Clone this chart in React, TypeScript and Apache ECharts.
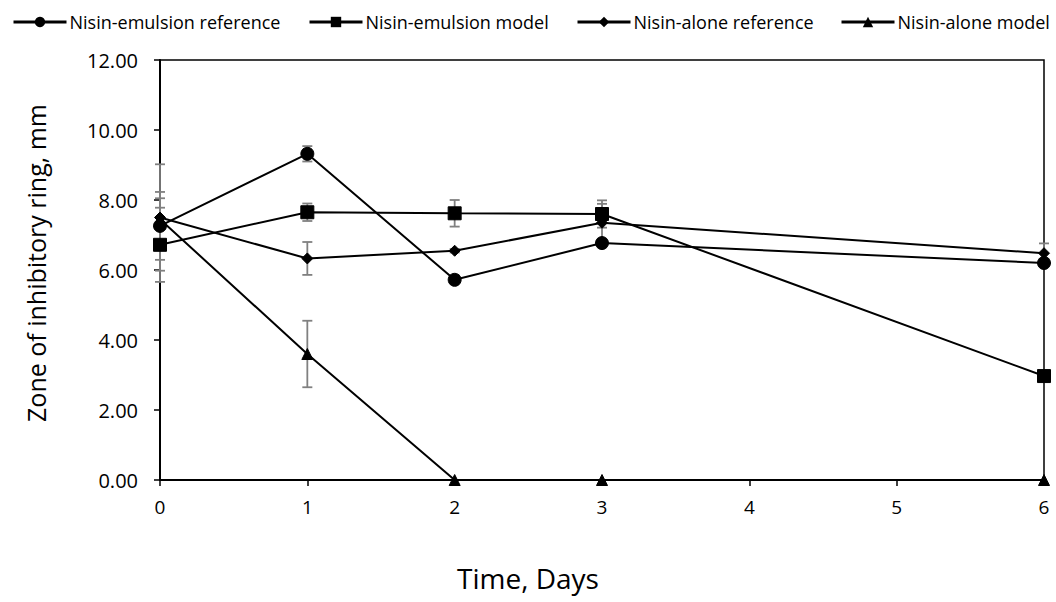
import React, { useEffect, useRef } from "react";
import * as echarts from "echarts";

const days = [0, 1, 2, 3, 6];
const xTicks = [0, 1, 2, 3, 4, 5, 6];
const yTicks = [0, 2, 4, 6, 8, 10, 12];

const emulsionRef = [7.26, 9.32, 5.72, 6.77, 6.2];
const emulsionRefErr = [0.97, 0.22, 0.12, 0.12, 0.1];
const emulsionModel = [6.72, 7.65, 7.62, 7.6, 2.97];
const emulsionModelErr = [1.06, 0.25, 0.38, 0.39, 0.05];
const aloneRef = [7.5, 6.33, 6.55, 7.35, 6.48];
const aloneRefErr = [1.52, 0.47, 0.05, 0.54, 0.28];
const aloneModel = [7.45, 3.6, 0, 0, 0];
const aloneModelErr = [0.6, 0.95, 0, 0, 0];

const seriesNames = [
  "Nisin-emulsion reference",
  "Nisin-emulsion model",
  "Nisin-alone reference",
  "Nisin-alone model",
];

const FONT = "Open Sans";

export default function App() {
  const ref = useRef<HTMLDivElement>(null);
  useEffect(() => {
    if (!ref.current) return;
    const chart = echarts.init(ref.current, undefined, { renderer: "svg" });

    const groups = [
      { name: seriesNames[0], vals: emulsionRef, errs: emulsionRefErr, symbol: "circle", size: 13 },
      { name: seriesNames[1], vals: emulsionModel, errs: emulsionModelErr, symbol: "rect", size: 13 },
      { name: seriesNames[2], vals: aloneRef, errs: aloneRefErr, symbol: "diamond", size: 11 },
      { name: seriesNames[3], vals: aloneModel, errs: aloneModelErr, symbol: "triangle", size: 11 },
    ];

    const errData: number[][] = [];
    groups.forEach((g) => {
      days.forEach((d, i) => {
        if (g.errs[i] > 0) errData.push([d, g.vals[i] - g.errs[i], g.vals[i] + g.errs[i]]);
      });
    });

    const legendLefts = [7, 303, 571, 835];

    chart.setOption({
      animation: false,
      grid: {
        left: 160,
        top: 60,
        right: 12,
        bottom: 122,
        show: true,
        borderColor: "#000",
        borderWidth: 1.5,
        backgroundColor: "transparent",
      },
      legend: groups.map((g, i) => ({
        data: [g.name],
        left: legendLefts[i],
        top: 8,
        itemWidth: 53,
        itemHeight: 13,
        itemGap: 0,
        lineStyle: { width: 3, color: "#000" },
        textStyle: { fontFamily: FONT, fontSize: 18, color: "#000", padding: [0, 0, 0, -2] },
      })),
      xAxis: {
        type: "value",
        min: 0,
        max: 6,
        interval: 1,
        splitLine: { show: false },
        axisLine: { show: true, lineStyle: { color: "#000", width: 2 } },
        axisTick: { show: true, length: 6, lineStyle: { color: "#000", width: 1.5 } },
        axisLabel: {
          margin: 17,
          fontFamily: FONT,
          fontSize: 19,
          color: "#000",
          formatter: (v: number) => (xTicks.includes(v) ? String(v) : ""),
        },
      },
      yAxis: {
        type: "value",
        min: 0,
        max: 12,
        interval: 2,
        splitLine: { show: false },
        axisLine: { show: true, lineStyle: { color: "#000", width: 2 } },
        axisTick: { show: true, length: 6, lineStyle: { color: "#000", width: 1.5 } },
        axisLabel: {
          margin: 22,
          fontFamily: FONT,
          fontSize: 20,
          color: "#000",
          formatter: (v: number) => (yTicks.includes(v) ? v.toFixed(2) : ""),
        },
      },
      graphic: [
        {
          type: "text",
          rotation: Math.PI / 2,
          x: 36,
          y: 263,
          style: {
            text: "Zone of inhibitory ring, mm",
            fontFamily: FONT,
            fontSize: 25,
            fill: "#000",
            textAlign: "center",
            textVerticalAlign: "middle",
          },
        },
        {
          type: "text",
          x: 528,
          y: 578,
          style: {
            text: "Time, Days",
            fontFamily: FONT,
            fontSize: 28,
            fill: "#000",
            textAlign: "center",
            textVerticalAlign: "middle",
          },
        },
      ],
      series: [
        {
          type: "custom",
          name: "errors",
          z: 1,
          silent: true,
          data: errData,
          renderItem: (params: any, api: any) => {
            const x = api.value(0);
            const lo = api.coord([x, api.value(1)]);
            const hi = api.coord([x, api.value(2)]);
            const w = 5;
            const style = { stroke: "#808080", lineWidth: 1.8 };
            return {
              type: "group",
              children: [
                { type: "line", shape: { x1: lo[0], y1: lo[1], x2: hi[0], y2: hi[1] }, style },
                { type: "line", shape: { x1: lo[0] - w, y1: lo[1], x2: lo[0] + w, y2: lo[1] }, style },
                { type: "line", shape: { x1: hi[0] - w, y1: hi[1], x2: hi[0] + w, y2: hi[1] }, style },
              ],
            };
          },
        },
        ...groups.map((g) => ({
          type: "line",
          name: g.name,
          z: 3,
          data: days.map((d, i) => [d, g.vals[i]]),
          symbol: g.symbol,
          symbolSize: g.size,
          showSymbol: true,
          clip: false,
          lineStyle: { color: "#000", width: 2 },
          itemStyle: { color: "#000", borderColor: "#000" },
        })),
      ],
    });
    return () => chart.dispose();
  }, []);

  return (
    <div
      ref={ref}
      style={{ position: "absolute", left: 0, top: 0, width: 1056, height: 602, background: "#fff" }}
    />
  );
}
